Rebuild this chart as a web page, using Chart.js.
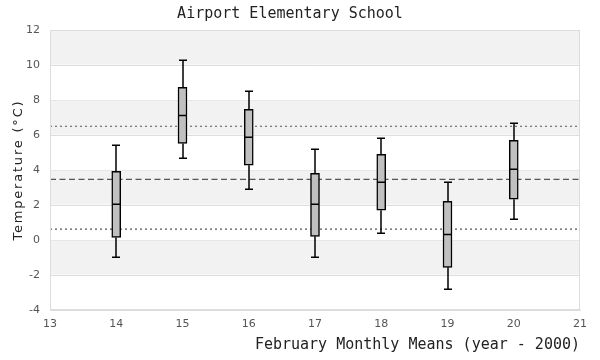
<!DOCTYPE html>
<html>
<head>
<meta charset="utf-8">
<script src="https://cdn.jsdelivr.net/npm/chart.js@4"></script>
<style>
html,body{margin:0;padding:0;background:#fff;}
#wrap{width:600px;height:360px;}
</style>
</head>
<body>
<div id="wrap"><canvas id="c" width="600" height="360"></canvas></div>
<script>
const years = [14, 15, 16, 17, 18, 19, 20];
const whiskerLow = [-0.99, 4.67, 2.90, -0.99, 0.38, -2.82, 1.18];
const q1 = [0.15, 5.52, 4.27, 0.21, 1.70, -1.56, 2.33];
const median = [2.04, 7.12, 5.87, 2.04, 3.30, 0.32, 4.04];
const q3 = [3.92, 8.72, 7.47, 3.81, 4.90, 2.21, 5.70];
const whiskerHigh = [5.41, 10.27, 8.50, 5.18, 5.81, 3.30, 6.67];
const meanLine = 3.47;
const upperLine = 6.5;
const lowerLine = 0.62;
const xRange = [13, 21];
const yRange = [-4, 12];
const yTitle = 'Temperature (°C)';

const boxData = years.map((x, i) => ({x: x, y: [q1[i], q3[i]]}));
const flat = v => xRange.map(x => ({x: x, y: v}));

const bandsPlugin = {
  id: 'bands',
  beforeDatasetsDraw(chart) {
    const {ctx, chartArea: a, scales: {y}} = chart;
    ctx.save();
    ctx.fillStyle = '#f2f2f2';
    for (let v = yRange[1]; v > yRange[0]; v -= 4) {
      const t = y.getPixelForValue(v), b = y.getPixelForValue(v - 2);
      ctx.fillRect(a.left, t + 0.5, a.right - a.left, b - t - 1);
    }
    ctx.restore();
  }
};

const boxPlugin = {
  id: 'boxes',
  afterDatasetsDraw(chart) {
    const {ctx, scales: {x, y}} = chart;
    ctx.save();
    ctx.strokeStyle = '#000';
    ctx.lineWidth = 1.5;
    const half = 4;
    years.forEach((yr, i) => {
      const cx = Math.round(x.getPixelForValue(yr));
      const lo = y.getPixelForValue(whiskerLow[i]);
      const b1 = y.getPixelForValue(q1[i]);
      const b3 = y.getPixelForValue(q3[i]);
      const hi = y.getPixelForValue(whiskerHigh[i]);
      const md = y.getPixelForValue(median[i]);
      ctx.beginPath();
      ctx.moveTo(cx, lo); ctx.lineTo(cx, b1);
      ctx.moveTo(cx, b3); ctx.lineTo(cx, hi);
      ctx.moveTo(cx - half, lo); ctx.lineTo(cx + half, lo);
      ctx.moveTo(cx - half, hi); ctx.lineTo(cx + half, hi);
      ctx.moveTo(cx - half, md); ctx.lineTo(cx + half, md);
      ctx.stroke();
    });
    ctx.restore();
  },
  afterDraw(chart) {
    const {ctx, chartArea: a} = chart;
    ctx.save();
    ctx.strokeStyle = '#dddddd';
    ctx.lineWidth = 1;
    ctx.strokeRect(a.left + 0.5, a.top + 0.5, a.right - a.left - 1, a.bottom - a.top - 1);
    ctx.translate(19, (a.top + a.bottom) / 2 + 1);
    ctx.rotate(-Math.PI / 2);
    ctx.font = '13px "DejaVu Sans", sans-serif';
    ctx.letterSpacing = '1.8px';
    ctx.fillStyle = '#222';
    ctx.textAlign = 'center';
    ctx.textBaseline = 'middle';
    ctx.fillText(yTitle, 0.9, 0);
    ctx.restore();
  }
};

new Chart(document.getElementById('c'), {
  type: 'bar',
  data: {
    datasets: [
      {type: 'bar', data: boxData, backgroundColor: '#c0c0c0', borderColor: '#000', borderWidth: 1.5, borderSkipped: false, barThickness: 9, order: 0},
      {type: 'line', data: flat(upperLine), borderColor: '#555', borderWidth: 1.2, borderDash: [2, 3], pointRadius: 0, order: 1},
      {type: 'line', data: flat(meanLine), borderColor: '#555', borderWidth: 1.2, borderDash: [6, 3.5], pointRadius: 0, order: 1},
      {type: 'line', data: flat(lowerLine), borderColor: '#555', borderWidth: 1.2, borderDash: [2, 3], pointRadius: 0, order: 1}
    ]
  },
  options: {
    responsive: false,
    animation: false,
    layout: {padding: {left: 0, right: 20, top: 0, bottom: 0}},
    plugins: {
      legend: {display: false},
      tooltip: {enabled: false},
      title: {
        display: true,
        text: 'Airport Elementary School',
        color: '#222',
        font: {family: '"DejaVu Sans Mono", monospace', size: 15, weight: 'normal'},
        padding: {top: 5, bottom: 7}
      }
    },
    scales: {
      x: {
        type: 'linear', min: xRange[0], max: xRange[1], offset: false,
        afterFit(s) { s.height = 50; },
        grid: {display: false, drawTicks: false},
        border: {display: true, color: '#dddddd'},
        ticks: {stepSize: 1, padding: 8, color: '#555', font: {family: '"DejaVu Sans", sans-serif', size: 11}},
        title: {display: true, text: 'February Monthly Means (year - 2000)', align: 'end', color: '#222',
          font: {family: '"DejaVu Sans Mono", monospace', size: 15}, padding: {top: 0, bottom: 6}}
      },
      y: {
        min: yRange[0], max: yRange[1],
        afterFit(s) { s.width = 50; },
        grid: {color: '#dddddd', drawTicks: false},
        border: {display: true, color: '#dddddd'},
        ticks: {stepSize: 2, padding: 10, color: '#555', font: {family: '"DejaVu Sans", sans-serif', size: 11}},
        title: {display: false}
      }
    }
  },
  plugins: [bandsPlugin, boxPlugin]
});
</script>
</body>
</html>
